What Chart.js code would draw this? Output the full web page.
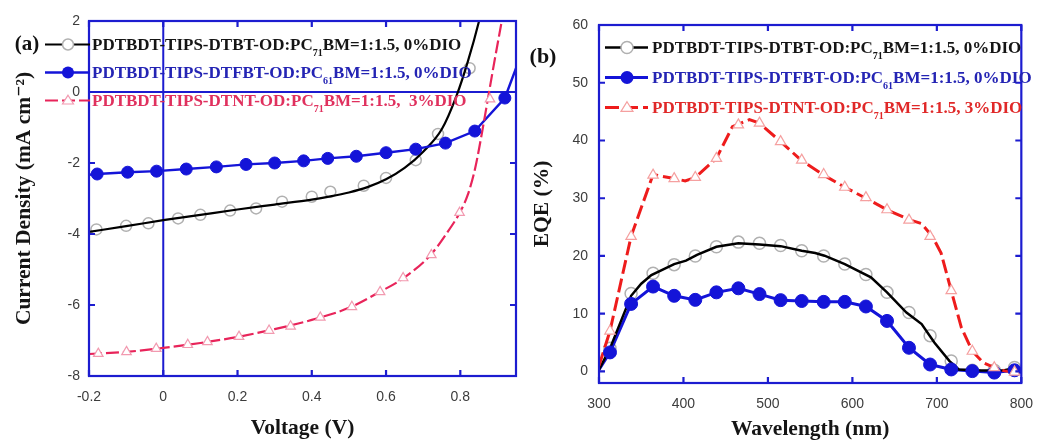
<!DOCTYPE html>
<html><head><meta charset="utf-8">
<script src="https://cdn.jsdelivr.net/npm/chart.js@4.4.1/dist/chart.umd.min.js"></script>
<style>
html,body{margin:0;padding:0;background:#fff;width:1046px;height:440px;overflow:hidden}
.p{position:absolute;top:0;width:523px;height:440px}
</style></head><body>
<div class="p" style="left:0"><canvas id="ca" width="523" height="440"></canvas></div>
<div class="p" style="left:523px"><canvas id="cb" width="523" height="440"></canvas></div>
<script>
// ---------- Panel (a): J–V ----------
const jvV_DTBT  = [-0.2,-0.1,0,0.1,0.2,0.3,0.4,0.45,0.5,0.55,0.6,0.65,0.7,0.75,0.79,0.82,0.85,0.87];
const jvJ_DTBT  = [-3.94,-3.78,-3.61,-3.46,-3.31,-3.17,-3.03,-2.94,-2.83,-2.68,-2.46,-2.14,-1.68,-1.05,-0.1,0.85,1.98,2.9];
const jvVm_DTBT = [-0.18,-0.1,-0.04,0.04,0.1,0.18,0.25,0.32,0.4,0.45,0.54,0.6,0.68,0.74,0.825];
const jvJm_DTBT = [-3.87,-3.77,-3.70,-3.56,-3.46,-3.34,-3.28,-3.09,-2.95,-2.81,-2.64,-2.42,-1.92,-1.18,0.67];

const jvV_DTFBT  = [-0.2,-0.178,-0.096,-0.018,0.062,0.143,0.223,0.3,0.378,0.443,0.52,0.6,0.68,0.76,0.839,0.92,0.96];
const jvJ_DTFBT  = [-2.33,-2.31,-2.26,-2.23,-2.17,-2.11,-2.04,-2.0,-1.94,-1.87,-1.81,-1.71,-1.61,-1.44,-1.10,-0.17,0.95];
const jvVm_DTFBT = [-0.178,-0.096,-0.018,0.062,0.143,0.223,0.3,0.378,0.443,0.52,0.6,0.68,0.76,0.839,0.92];
const jvJm_DTFBT = [-2.31,-2.26,-2.23,-2.17,-2.11,-2.04,-2.0,-1.94,-1.87,-1.81,-1.71,-1.61,-1.44,-1.10,-0.17];

const jvV_DTNT  = [-0.2,-0.1,0,0.1,0.2,0.3,0.4,0.5,0.58,0.65,0.72,0.76,0.8,0.82,0.84,0.86,0.875,0.89,0.91,0.93];
const jvJ_DTNT  = [-7.38,-7.32,-7.21,-7.07,-6.9,-6.68,-6.42,-6.08,-5.65,-5.22,-4.59,-4.03,-3.37,-2.9,-2.15,-1.05,-0.15,0.75,1.9,3.0];
const jvVm_DTNT = [-0.175,-0.099,-0.019,0.066,0.119,0.204,0.285,0.343,0.423,0.508,0.584,0.646,0.722,0.798,0.88];
const jvJm_DTNT = [-7.37,-7.32,-7.23,-7.12,-7.04,-6.89,-6.72,-6.6,-6.35,-6.05,-5.63,-5.24,-4.59,-3.4,-0.2];

// ---------- Panel (b): EQE ----------
const lamMarks = [313,338,364,389,414,439,465,490,515,540,566,591,616,641,667,692,717,742,768,792];

const eqeLam_DTBT  = [300,313,338,350,362,389,403,416,439,465,490,515,540,556,567,591,622,641,664,682,697,715,726,753,780,792,800];
const eqe_DTBT     = [0.3,4.0,13.1,15.2,16.7,18.6,19.2,20.2,21.6,22.2,22.0,21.7,20.9,20.5,20.05,18.6,16.3,13.7,10.2,8.2,5.0,1.8,0.35,0.17,0.2,0.6,0.2];
const eqeM_DTBT    = [4.0,13.5,17.0,18.5,20.0,21.6,22.4,22.2,21.8,20.9,20.0,18.6,16.8,13.7,10.2,6.2,1.8,0.2,0.2,0.7];

const eqeLam_DTFBT = [300,313,338,364,389,414,439,465,490,515,540,566,591,616,641,667,692,717,742,768,792,800];
const eqe_DTFBT    = [0.3,3.3,11.7,14.7,13.1,12.4,13.7,14.4,13.4,12.35,12.2,12.05,12.05,11.25,8.75,4.1,1.2,0.35,0.06,-0.2,0.2,0.0];
const eqeM_DTFBT   = [3.3,11.7,14.7,13.1,12.4,13.7,14.4,13.4,12.35,12.2,12.05,12.05,11.25,8.75,4.1,1.2,0.35,0.06,-0.2,0.2];

const eqeLam_DTNT  = [300,313,338,364,389,402,414,439,458,478,490,515,540,566,591,616,641,667,682,695,705,717,729,742,755,768,780,792,800];
const eqe_DTNT     = [1.0,7.0,23.4,34.1,33.4,33.0,33.6,36.9,42.4,43.6,43.0,39.8,36.5,34.0,31.9,30.0,28.0,26.3,25.6,23.3,20.5,14.0,7.6,3.5,1.5,0.65,0.1,-0.1,-0.2];
const eqeM_DTNT    = [7.0,23.4,34.0,33.4,33.6,36.9,42.7,43.0,39.8,36.6,34.1,31.9,30.1,28.0,26.2,23.4,14.0,3.5,0.65,-0.1];

// ---------- Text ----------
const legendA = [
  ["PDTBDT-TIPS-DTBT-OD:PC","71","BM=1:1.5, 0%DIO"],
  ["PDTBDT-TIPS-DTFBT-OD:PC","61","BM=1:1.5, 0%DIO"],
  ["PDTBDT-TIPS-DTNT-OD:PC","71","BM=1:1.5,  3%DIO"]
];
const legendB = [
  ["PDTBDT-TIPS-DTBT-OD:PC","71","BM=1:1.5, 0%DIO"],
  ["PDTBDT-TIPS-DTFBT-OD:PC","61","BM=1:1.5, 0%DIO"],
  ["PDTBDT-TIPS-DTNT-OD:PC","71","BM=1:1.5, 3%DIO"]
];
const xTitleA = "Voltage (V)";
const yTitleA = "Current Density (mA cm\u207B\u00B2)";
const xTitleB = "Wavelength (nm)";
const yTitleB = "EQE (%)";

// ---------- styles ----------
const AX = '#1c1cd0';
const BLUE = '#1414d8';
const GRAY = '#b0b0b0';
const REDA = '#e8245a';
const REDB = '#ee1c1c';
const TICKC = '#3c3c3c';
const SERIF = '"Liberation Serif", "DejaVu Serif", serif';
const SANS = '"Liberation Sans", Arial, sans-serif';

function pts(xs, ys){ return xs.map((x,i)=>({x:x, y:ys[i]})); }

function drawMarker(ctx, kind, x, y, r){
  ctx.save();
  ctx.setLineDash([]);
  if (kind === 'open') {
    ctx.strokeStyle = GRAY; ctx.lineWidth = 1.5; ctx.fillStyle = '#fff';
    ctx.beginPath(); ctx.arc(x, y, r, 0, Math.PI*2); ctx.fill(); ctx.stroke();
  } else if (kind === 'fill') {
    ctx.fillStyle = BLUE;
    ctx.beginPath(); ctx.arc(x, y, r, 0, Math.PI*2); ctx.fill();
  } else {
    ctx.strokeStyle = kind; ctx.lineWidth = 1.2; ctx.fillStyle = '#fff';
    const h = r*1.6;
    ctx.beginPath(); ctx.moveTo(x, y - h*0.6); ctx.lineTo(x + r, y + h*0.4); ctx.lineTo(x - r, y + h*0.4); ctx.closePath();
    ctx.fill(); ctx.stroke();
  }
  ctx.restore();
}

const framePlugin = {
  id: 'frame',
  beforeDatasetsDraw(chart, args, o){
    if (!o.zeroLines) return;
    const {ctx, chartArea:a, scales:{x, y}} = chart;
    ctx.save(); ctx.strokeStyle = AX; ctx.lineWidth = 2;
    const x0 = x.getPixelForValue(0), y0 = y.getPixelForValue(0);
    ctx.beginPath();
    ctx.moveTo(x0, a.top); ctx.lineTo(x0, a.bottom);
    ctx.moveTo(a.left, y0); ctx.lineTo(a.right, y0);
    ctx.stroke(); ctx.restore();
  },
  afterDatasetsDraw(chart){
    const {ctx, chartArea:a, scales:{x, y}} = chart;
    ctx.save(); ctx.strokeStyle = AX; ctx.lineWidth = 2.2;
    ctx.strokeRect(a.left, a.top, a.right - a.left, a.bottom - a.top);
    const L = 6;
    ctx.beginPath();
    x.ticks.forEach(t => {
      const px = x.getPixelForValue(t.value);
      ctx.moveTo(px, a.bottom); ctx.lineTo(px, a.bottom - L);
      ctx.moveTo(px, a.top); ctx.lineTo(px, a.top + L);
    });
    y.ticks.forEach(t => {
      const py = y.getPixelForValue(t.value);
      ctx.moveTo(a.left, py); ctx.lineTo(a.left + L, py);
      ctx.moveTo(a.right, py); ctx.lineTo(a.right - L, py);
    });
    ctx.stroke(); ctx.restore();
  }
};

const keyPlugin = {
  id: 'key',
  afterDraw(chart, args, o){
    const ctx = chart.ctx;
    ctx.save();
    ctx.font = 'bold ' + o.tagSize + 'px ' + SERIF;
    ctx.fillStyle = '#111'; ctx.textAlign = 'center'; ctx.textBaseline = 'middle';
    ctx.fillText(o.tag, o.tagX, o.tagY);
    o.rows.forEach((r, i) => {
      const y = o.y0 + i*o.dy;
      ctx.strokeStyle = r.line; ctx.lineWidth = r.lw; ctx.setLineDash(r.dash || []);
      ctx.beginPath(); ctx.moveTo(o.x1, y); ctx.lineTo(o.x2, y); ctx.stroke();
      ctx.setLineDash([]);
      drawMarker(ctx, r.marker, o.mx, y, r.mr);
      ctx.textAlign = 'left'; ctx.textBaseline = 'alphabetic'; ctx.fillStyle = r.text;
      const main = 'bold ' + o.fs + 'px ' + SERIF;
      const sub = 'bold ' + Math.round(o.fs*0.6) + 'px ' + SERIF;
      let x = o.tx; const base = y + o.fs*0.34;
      const lab = o.labels[i];
      ctx.font = main; ctx.fillText(lab[0], x, base); x += ctx.measureText(lab[0]).width;
      ctx.font = sub; ctx.fillText(lab[1], x, base + 6); x += ctx.measureText(lab[1]).width;
      ctx.font = main; ctx.fillText(lab[2], x, base);
    });
    ctx.restore();
  }
};

function lineDs(data, color, width, order, extra){
  return Object.assign({data, borderColor: color, borderWidth: width, pointRadius: 0, showLine: true,
    fill: false, clip: 0, order}, extra || {});
}
function markDs(data, kind, order, r){
  const base = {data, showLine: false, order, pointRadius: r, pointHoverRadius: r, clip: false};
  if (kind === 'open') return Object.assign(base, {pointStyle:'circle', pointBorderColor: GRAY, pointBackgroundColor:'rgba(255,255,255,0)', pointBorderWidth:1.5});
  if (kind === 'fill') return Object.assign(base, {pointStyle:'circle', pointBorderColor: BLUE, pointBackgroundColor: BLUE, pointBorderWidth:1});
  return Object.assign(base, {pointStyle:'triangle', pointBorderColor: kind, pointBackgroundColor:'#fff', pointBorderWidth:1.2});
}

function axisCommon(size){
  return {
    grid: {display:false, drawTicks:false},
    border: {display:false},
    ticks: {font:{family:SANS, size:size}, color:TICKC, autoSkip:false, maxRotation:0, includeBounds:false}
  };
}

// ---------- Chart (a) ----------
const xa = axisCommon(14), ya = axisCommon(14);
new Chart(document.getElementById('ca'), {
  type: 'scatter',
  data: { datasets: [
    markDs(pts(jvVm_DTNT, jvJm_DTNT), '#f29ab0', 0, 5.5),
    markDs(pts(jvVm_DTFBT, jvJm_DTFBT), 'fill', 1, 6),
    lineDs(pts(jvV_DTNT, jvJ_DTNT), REDA, 2.2, 2, {cubicInterpolationMode:'monotone', borderDash:[13,4]}),
    lineDs(pts(jvV_DTFBT, jvJ_DTFBT), BLUE, 2.4, 3, {tension:0}),
    lineDs(pts(jvV_DTBT, jvJ_DTBT), '#000', 2.2, 4, {cubicInterpolationMode:'monotone'}),
    markDs(pts(jvVm_DTBT, jvJm_DTBT), 'open', 5, 5.5)
  ]},
  options: {
    responsive:false, animation:false, events:[],
    layout:{padding:{top:21, right:5, left:0, bottom:0}},
    plugins:{
      legend:{display:false}, tooltip:{enabled:false},
      frame:{zeroLines:true},
      key:{tag:'(a)', tagSize:21, tagX:27, tagY:44.5, y0:44.5, dy:28, x1:45, x2:90, mx:68, tx:92, fs:17,
        labels: legendA,
        rows:[
          {line:'#000', lw:2, marker:'open', mr:5.5, text:'#151515'},
          {line:BLUE, lw:2.4, marker:'fill', mr:6, text:'#2424b4'},
          {line:REDA, lw:2.2, dash:[13,4], marker:'#f29ab0', mr:5.5, text:'#e0305e'}
        ]}
    },
    scales:{
      x: Object.assign(xa, {type:'linear', min:-0.2, max:0.95,
        afterFit(s){ s.height = 64; },
        ticks: Object.assign(xa.ticks, {stepSize:0.2, padding:13, callback:v => String(Math.round(v*10)/10 || 0)}),
        title:{display:true, text:xTitleA, color:'#151515', padding:0, font:{family:SERIF, weight:'bold', size:21.5, lineHeight:1.1}}
      }),
      y: Object.assign(ya, {type:'linear', min:-8, max:2,
        afterFit(s){ s.width = 89; },
        ticks: Object.assign(ya.ticks, {stepSize:2, padding:9}),
        title:{display:true, text:yTitleA, color:'#151515', padding:{top:12, bottom:0}, font:{family:SERIF, weight:'bold', size:21.5, lineHeight:1.2}}
      })
    }
  },
  plugins:[framePlugin, keyPlugin]
});

// ---------- Chart (b) ----------
const xb = axisCommon(14), yb = axisCommon(14);
new Chart(document.getElementById('cb'), {
  type: 'scatter',
  data: { datasets: [
    markDs(pts(lamMarks, eqeM_DTNT), '#f5a0a0', 0, 6),
    markDs(pts(lamMarks, eqeM_DTFBT), 'fill', 1, 6.5),
    lineDs(pts(eqeLam_DTNT, eqe_DTNT), REDB, 3, 2, {tension:0, borderDash:[14,5]}),
    lineDs(pts(eqeLam_DTBT, eqe_DTBT), '#000', 2.5, 3, {tension:0}),
    lineDs(pts(eqeLam_DTFBT, eqe_DTFBT), BLUE, 3, 4, {tension:0}),
    markDs(pts(lamMarks, eqeM_DTBT), 'open', 5, 6)
  ]},
  options: {
    responsive:false, animation:false, events:[],
    layout:{padding:{top:25, right:16, left:0, bottom:0}},
    plugins:{
      legend:{display:false}, tooltip:{enabled:false},
      frame:{zeroLines:false},
      key:{tag:'(b)', tagSize:22, tagX:20, tagY:57, y0:47.5, dy:30, x1:82, x2:125, mx:104, tx:129, fs:17,
        labels: legendB,
        rows:[
          {line:'#000', lw:2.5, marker:'open', mr:6, text:'#151515'},
          {line:BLUE, lw:3, marker:'fill', mr:6.5, text:'#2424b4'},
          {line:REDB, lw:3, dash:[14,5], marker:'#f5a0a0', mr:6, text:'#e02828'}
        ]}
    },
    scales:{
      x: Object.assign(xb, {type:'linear', min:300, max:800,
        afterFit(s){ s.height = 57; },
        ticks: Object.assign(xb.ticks, {stepSize:100, padding:13}),
        title:{display:true, text:xTitleB, color:'#151515', padding:0, font:{family:SERIF, weight:'bold', size:21.5, lineHeight:0.95}}
      }),
      y: Object.assign(yb, {type:'linear', min:-2, max:60,
        afterFit(s){ s.width = 76; },
        ticks: Object.assign(yb.ticks, {stepSize:10, padding:11}),
        title:{display:true, text:yTitleB, color:'#151515', padding:{top:7, bottom:0}, font:{family:SERIF, weight:'bold', size:21.5, lineHeight:1.2}}
      })
    }
  },
  plugins:[framePlugin, keyPlugin]
});
</script>
</body></html>
